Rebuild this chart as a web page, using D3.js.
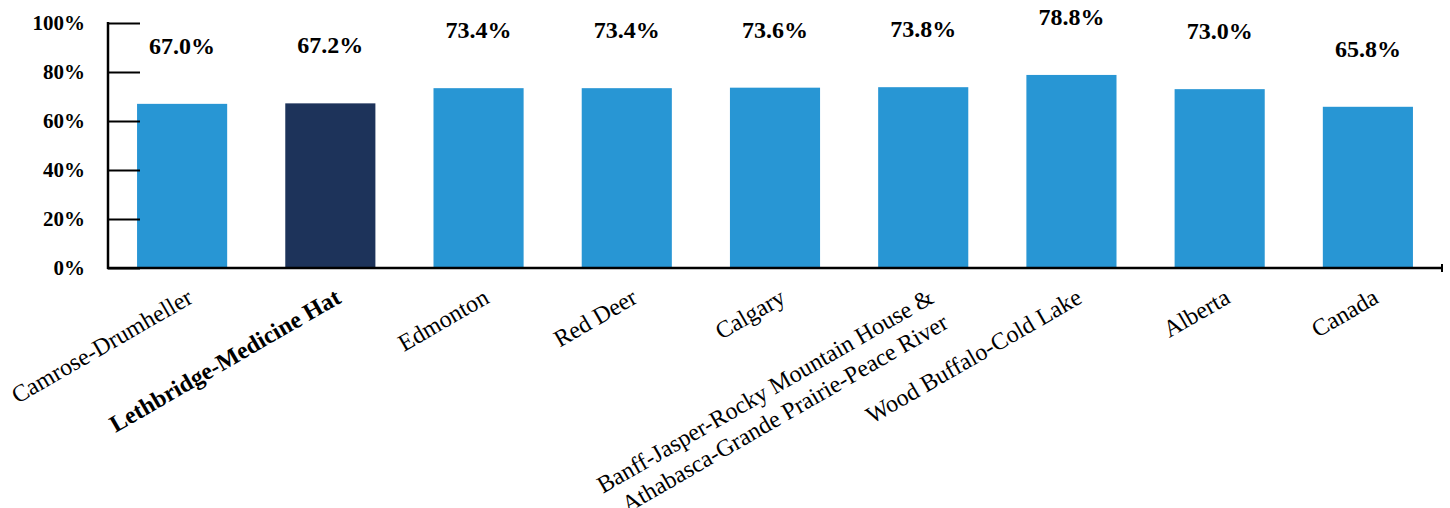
<!DOCTYPE html>
<html>
<head>
<meta charset="utf-8">
<script src="https://cdn.jsdelivr.net/npm/d3@7"></script>
<style>
  html, body { margin: 0; padding: 0; background: #fff; }
  svg { display: block; }
</style>
</head>
<body>
<svg id="chart" width="1450" height="508"></svg>
<script>
const categories = [
  ["Camrose-Drumheller"],
  ["Lethbridge-Medicine Hat"],
  ["Edmonton"],
  ["Red Deer"],
  ["Calgary"],
  ["Banff-Jasper-Rocky Mountain House &", "Athabasca-Grande Prairie-Peace River"],
  ["Wood Buffalo-Cold Lake"],
  ["Alberta"],
  ["Canada"]
];
const values = [0.670, 0.672, 0.734, 0.734, 0.736, 0.738, 0.788, 0.730, 0.658];
const highlighted = [false, true, false, false, false, false, false, false, false];
const yTicks = [0, 0.2, 0.4, 0.6, 0.8, 1.0];

const svg = d3.select("#chart");
const mLeft = 108, mRight = 1442, mTop = 23, mBottom = 268;
const serif = "'Liberation Serif', 'Times New Roman', serif";

const x = d3.scaleBand().domain(d3.range(categories.length)).range([mLeft, mRight]).paddingInner(0.392).paddingOuter(0.196);
const y = d3.scaleLinear().domain([0, 1]).range([mBottom, mTop]);

// bars
svg.selectAll("rect.bar").data(values).enter().append("rect")
  .attr("class", "bar")
  .attr("x", (d, i) => x(i))
  .attr("y", d => y(d))
  .attr("width", x.bandwidth())
  .attr("height", d => y(0) - y(d))
  .attr("fill", (d, i) => highlighted[i] ? "#1d335a" : "#2896d4");

// y axis
const yAxis = d3.axisRight(y).tickValues(yTicks).tickSize(32).tickFormat("");
const gy = svg.append("g").attr("transform", `translate(${mLeft},0)`).call(yAxis);
gy.select(".domain").remove();
gy.selectAll(".tick line").attr("stroke", "#000").attr("stroke-width", 2);
svg.append("line").attr("x1", mLeft).attr("x2", mLeft).attr("y1", y(1) - 1).attr("y2", mBottom + 1)
  .attr("stroke", "#000").attr("stroke-width", 2.5);

// y tick labels
svg.selectAll("text.ytick").data(yTicks).enter().append("text")
  .attr("class", "ytick")
  .attr("x", 85)
  .attr("y", d => y(d))
  .attr("dy", "0.35em")
  .attr("text-anchor", "end")
  .attr("font-family", serif)
  .attr("font-weight", "bold")
  .attr("font-size", 21)
  .text(d3.format(".0%"));

// x axis line
svg.append("line").attr("x1", mLeft - 1).attr("x2", mRight).attr("y1", mBottom).attr("y2", mBottom)
  .attr("stroke", "#000").attr("stroke-width", 2.5);
svg.append("line").attr("x1", mRight).attr("x2", mRight).attr("y1", mBottom - 4).attr("y2", mBottom + 4)
  .attr("stroke", "#000").attr("stroke-width", 2);

// value labels
svg.selectAll("text.val").data(values).enter().append("text")
  .attr("class", "val")
  .attr("x", (d, i) => x(i) + x.bandwidth() / 2)
  .attr("y", d => y(d) - 50)
  .attr("text-anchor", "middle")
  .attr("font-family", serif)
  .attr("font-weight", "bold")
  .attr("font-size", 24)
  .text(d => d3.format(".1%")(d));

// category labels
const cl = svg.selectAll("text.cat").data(categories).enter().append("text")
  .attr("class", "cat")
  .attr("transform", (d, i) => `translate(${x(i) + x.bandwidth() / 2 + 12},302) rotate(-30)`)
  .attr("text-anchor", "end")
  .attr("font-family", serif)
  .attr("font-size", 24)
  .attr("font-weight", (d, i) => highlighted[i] ? "bold" : "normal")
  .attr("fill", "#000");
cl.selectAll("tspan").data(d => d).enter().append("tspan")
  .attr("x", 0)
  .attr("y", (d, j) => j * 29)
  .text(d => d);
</script>
</body>
</html>
